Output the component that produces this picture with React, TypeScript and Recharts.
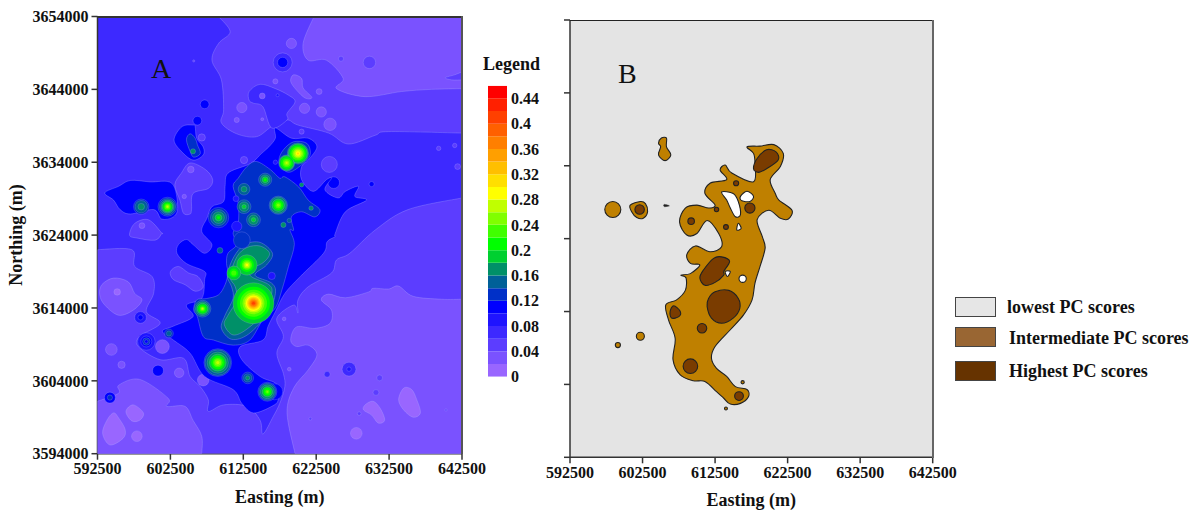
import { Bar, BarChart, CartesianGrid, Scatter, ScatterChart, XAxis, YAxis } from "recharts";

type Pt = [number, number]; // easting km, northing km

const eastTicks = [592500, 602500, 612500, 622500, 632500, 642500];
const northTicks = [3594000, 3604000, 3614000, 3624000, 3634000, 3644000, 3654000];
const scaleTicks = [0, 0.04, 0.08, 0.12, 0.16, 0.2, 0.24, 0.28, 0.32, 0.36, 0.4, 0.44];

// contour classes, 0.02 wide each, lowest first
const bandColors = [
  "#9966ff", "#7a52ff", "#5c3dff", "#3d29ff", "#1f14ff", "#0000ff", "#0030c8", "#006098",
  "#009068", "#00d030", "#00ff00", "#40ff00", "#80ff00", "#c0ff00", "#ffff00", "#ffdf00",
  "#ffbf00", "#ff9f00", "#ff7f00", "#ff6000", "#ff4000", "#ff2000", "#ff0000",
];
const pcLegend = [
  { label: "lowest PC scores", color: "#e6e6e6" },
  { label: "Intermediate PC scores", color: "#996633" },
  { label: "Highest PC scores", color: "#663300" },
];

// ---- panel A: contours that run into the frame (frame corners come last)
const northBand3: Pt[] = [
  [609.1, 3654], [610.7, 3651.9], [609.1, 3650.3], [608.2, 3648], [609.5, 3645.3], [609.8, 3641.2],
  [609.5, 3639.4], [611.6, 3637.9], [614.3, 3637.5], [616.4, 3638.9], [618.5, 3639.8], [620, 3639.1],
  [624.2, 3638], [626.9, 3636.5], [630.6, 3637.7], [632.4, 3638.2], [642.5, 3638], [642.5, 3654],
];
const northBand2: Pt[] = [
  [622.2, 3654], [620.7, 3650.3], [621.4, 3648], [623.9, 3648], [626.2, 3645.5], [625.3, 3644.1],
  [629.2, 3643], [634.2, 3643.7], [638.3, 3644], [642.5, 3644.1], [642.5, 3654],
];
const northNotch: Pt[] = [[642.5, 3645.3], [641.1, 3645.3], [640.2, 3645.6], [641.5, 3646], [642.5, 3646.4]];
const southBand3: Pt[] = [
  [592.5, 3622], [597.2, 3622], [597.6, 3619.7], [600, 3618.3], [600.2, 3616], [599.2, 3613.5],
  [601.1, 3611.9], [598.3, 3610.1], [598.1, 3608.7], [601.1, 3606.9], [604.3, 3607.1], [605.2, 3604.6],
  [606.6, 3603.2], [607.7, 3601.4], [607.7, 3599.8], [609.8, 3600.7], [613, 3600.5], [614.8, 3598.6],
  [615.2, 3596.7], [616.6, 3599.1], [617.5, 3600.9], [618.2, 3603.2], [618, 3605], [617.1, 3607.8],
  [618, 3610.1], [617.1, 3612.6], [619.4, 3614.4], [620, 3613.3], [620, 3615.1], [621.4, 3616.9],
  [624.6, 3618.8], [625.3, 3620.6], [627.1, 3621.5], [630.6, 3624.7], [635.1, 3627.5], [642.5, 3629.1],
  [642.5, 3594], [592.5, 3594],
];
const southWestBand2: Pt[] = [
  [592.5, 3601.2], [595.4, 3602.3], [595.4, 3603.4], [598.3, 3604.2], [602.2, 3601.6], [602, 3600.5],
  [604.5, 3600.5], [605.6, 3598.6], [606.8, 3596.4], [606.8, 3594], [592.5, 3594],
];
const southEastBand2: Pt[] = [
  [619.6, 3594], [618.5, 3599.6], [619.4, 3603], [621.4, 3605.5], [622.6, 3607.6], [621.4, 3608.9],
  [619.8, 3608.7], [619, 3609.6], [619.8, 3611.4], [622.3, 3611.2], [624.4, 3611.9], [624.6, 3613.7],
  [623.2, 3615.1], [624.2, 3615.9], [626.5, 3615.4], [629.7, 3616.2], [630.3, 3616.7], [632.4, 3616.6],
  [633.8, 3617], [635.8, 3615.6], [639.7, 3615.2], [642.5, 3615.2], [642.5, 3594],
];

// ---- panel A: closed low-value patches
const lowBlobs: [number, Pt[]][] = [
  [1, [[594.7, 3599.6], [593.8, 3598.6], [593.2, 3596.8], [594.2, 3595.2], [596, 3596.1], [596.3, 3597.3], [595.4, 3598.9]]],
  [1, [[596.4, 3599.8], [597.4, 3600.7], [598.8, 3599.6], [598.3, 3598.6], [597.2, 3598.5]]],
  [1, [[634.5, 3603], [635.6, 3602.8], [636.3, 3601.4], [636.8, 3599.6], [635.8, 3599], [634.5, 3600], [633.8, 3601.4]]],
  [1, [[629.2, 3600.7], [630.3, 3601.2], [631.3, 3600.2], [631.9, 3598.6], [631, 3598.2], [630.1, 3599.3], [629, 3600]]],
  [4, [[613.3, 3643.7], [614.8, 3644.7], [616.9, 3644.1], [618.7, 3643.2], [619.6, 3642.3], [618.5, 3640.7], [618.5, 3639.8], [616.4, 3638.7], [615.2, 3641.6], [613.9, 3642.1], [613.3, 3642.5]]],
  [2, [[619.4, 3646], [620.5, 3645.5], [620.7, 3644.2], [621.9, 3642.9], [621, 3642.8], [619.8, 3643.9], [619, 3645.1]]],
  [3, [[605.2, 3633.9], [607.3, 3633], [608.3, 3631.6], [607.7, 3630.4], [605.6, 3629.7], [605.4, 3627.5], [605.2, 3626.9], [604.3, 3627], [603.8, 3628.8], [603.1, 3630.9], [604, 3632.5]]],
  [3, [[596.9, 3624], [597.6, 3625.6], [599.5, 3626.1], [601.3, 3624.3], [601.3, 3624.2], [600.4, 3623.3], [597.9, 3623.6]]],
  [2, [[594.7, 3618.1], [596.7, 3617.6], [597.6, 3616], [598.6, 3615.1], [597.4, 3613.7], [595.4, 3613], [593.5, 3614.4], [592.8, 3615.8], [593.1, 3617.2]]],
  [3, [[603.6, 3619.7], [605, 3618.8], [606.3, 3618.3], [607, 3616.9], [605.9, 3616.3], [604.5, 3617.2], [602.9, 3617.9], [602.5, 3619]]],
];

// easting km, northing km, class, radius km
const lowSpots: [number, number, number, number][] = [
  [597.9, 3596.4, 1, 0.73], [628, 3596.8, 1, 0.8], [605.3, 3633, 2, 0.45], [604.4, 3629.3, 2, 0.3],
  [598.6, 3625.3, 2, 0.4], [606.8, 3637.4, 3, 0.5], [605.7, 3647.9, 3, 0.15], [612.3, 3641.5, 2, 0.7],
  [611.6, 3639.8, 2, 0.35], [615.1, 3639.9, 2, 0.2], [612.6, 3634.3, 3, 0.5], [615.1, 3643.1, 2, 0.4],
  [617.2, 3643.2, 5, 0.2], [620.9, 3641.4, 2, 0.7], [623.2, 3640.9, 2, 0.7], [624.4, 3639.2, 2, 0.85],
  [622.9, 3643.7, 2, 0.4], [619.1, 3650.3, 2, 0.7], [625.9, 3648.2, 3, 0.35], [629.8, 3647.7, 3, 0.85],
  [617.9, 3647.7, 4, 1.3], [617.9, 3647.7, 6, 0.7], [616.9, 3645.1, 2, 0.35], [639.3, 3635.9, 3, 0.3],
  [641.5, 3636.3, 3, 0.3], [641.9, 3633.4, 3, 0.4], [607.2, 3641.95, 6, 0.6], [606.2, 3639.7, 6, 0.6],
  [595.2, 3616.2, 1, 0.45], [594.4, 3608.3, 2, 0.8], [595.8, 3606.2, 2, 0.5], [603.7, 3605.1, 2, 0.65],
  [601.4, 3608.7, 2, 0.95], [607, 3604.1, 2, 0.8], [627, 3605.6, 4, 0.95], [627, 3605.6, 5, 0.3],
  [624, 3604.9, 4, 0.4], [631.2, 3604.4, 3, 0.4], [630.7, 3602.4, 3, 0.4], [628.4, 3599.5, 3, 0.25],
  [621.7, 3598.8, 3, 0.2], [618.8, 3605.6, 2, 0.25], [618.1, 3612.5, 2, 0.25], [640.3, 3600, 3, 0.15],
  [624.3, 3633.7, 3, 1.1], [624.9, 3631.2, 6, 0.8], [630.1, 3631, 6, 0.35], [620.5, 3638.2, 3, 0.35],
  [599.2, 3609.4, 5, 1.2], [599.2, 3609.4, 6, 0.75], [599.2, 3609.4, 7, 0.5], [599.2, 3609.4, 6, 0.25],
  [598.4, 3612.7, 5, 0.8], [598.4, 3612.7, 6, 0.35], [600.8, 3605.4, 6, 0.75], [594.2, 3601.7, 6, 0.75],
  [594.2, 3601.7, 7, 0.35],
];

// ---- panel A: central anomaly
const centralBand6: Pt[] = [
  [616.9, 3638.7], [619.1, 3637.3], [621.4, 3637.3], [622.6, 3636.1], [621.4, 3634.3], [620.5, 3633.4],
  [620.5, 3631.6], [622.1, 3630], [623.9, 3631.6], [624.6, 3631.8], [623.7, 3630.2], [625.5, 3629.1],
  [626.5, 3630], [628.3, 3630.7], [627.8, 3629.3], [629.4, 3628.8], [626.5, 3627.2], [625.1, 3624.2],
  [625.1, 3623.8], [624, 3623.1], [623.5, 3621.5], [620.3, 3618.3], [618.2, 3616], [616.9, 3613.5],
  [615.9, 3611.5], [615.2, 3609.6], [612.1, 3608.7], [612.3, 3606.9], [614.8, 3604.6], [617.1, 3603.5],
  [617.3, 3601.4], [616.4, 3600.5], [613.9, 3599.6], [612.3, 3600.9], [611.1, 3602.8], [607.2, 3604.6],
  [605.2, 3607.8], [602.9, 3609.6], [601.4, 3610.8], [602.9, 3611.5], [605.6, 3612.8], [604.7, 3614.4],
  [606.8, 3615.3], [607.2, 3617.9], [607.2, 3619], [604.7, 3620.1], [603.4, 3621.5], [603.6, 3622.7],
  [604.7, 3623.4], [605.6, 3622.7], [607.2, 3621.5], [608.2, 3622.7], [606.8, 3624.5], [607.5, 3626.3],
  [608.2, 3627.9], [609.8, 3628.6], [610, 3630.7], [610.4, 3632.5], [613, 3633.6], [613.9, 3634.1],
  [615, 3635.2], [616, 3636.1], [616.9, 3637.3],
];
const westPocket: Pt[] = [
  [593.5, 3629.8], [595.4, 3630.7], [597, 3631.5], [599.7, 3631.3], [602.7, 3631.1], [603.5, 3627.9],
  [602.9, 3626.5], [601.3, 3626.2], [600.2, 3627.5], [597, 3626.9], [595.6, 3627.5], [594.7, 3628.8],
];
const northPocket: Pt[] = [
  [605.6, 3639.1], [604.1, 3638.9], [603, 3637.1], [604, 3635.5], [605.6, 3634.3], [607, 3635],
  [607, 3636.1], [606.1, 3637.3], [605.9, 3638.9],
];
const northPocketCore: Pt[] = [
  [605.2, 3637.9], [604.7, 3637.1], [605.2, 3635.5], [605.7, 3634.7], [606.6, 3635.2], [606.2, 3636.4], [605.9, 3637.3],
];
const centralBand7: Pt[] = [
  [613, 3633.4], [614.3, 3634.1], [616.2, 3633], [617.5, 3631.8], [618.2, 3632], [620.1, 3630.6],
  [621.4, 3628.8], [623, 3627.5], [622.3, 3626.5], [620.5, 3627.2], [619.1, 3626.5], [619.4, 3624.7],
  [618.9, 3624.7], [619.5, 3622.7], [618.7, 3619.7], [617.8, 3616.5], [616.9, 3614], [615.2, 3612.4],
  [613.4, 3609.6], [611.1, 3608.9], [608.4, 3609.6], [607, 3610.1], [606.2, 3612.8], [605.7, 3613.7],
  [606.1, 3615.1], [607.5, 3615.3], [609.1, 3615.8], [610, 3617.2], [610.4, 3618.8], [610.2, 3620.1],
  [610.4, 3621.5], [611.6, 3622.7], [611.1, 3624.3], [611.8, 3625.6], [611.8, 3628.4], [611.1, 3630.7],
  [611.8, 3631.8],
];
const northEastBand7: Pt[] = [
  [619.4, 3636.8], [621.2, 3636.6], [621.7, 3635.2], [621, 3634.1], [619.1, 3632.7], [618, 3633], [617.4, 3634.3], [618, 3635.7],
];
const centralBand8: Pt[] = [
  [609.5, 3611.2], [610.9, 3609.7], [613.2, 3610.4], [615.9, 3613.3], [616.9, 3616], [616.4, 3617.4],
  [614.1, 3618.5], [615.7, 3619.9], [616.5, 3621.5], [614.8, 3623], [612.7, 3622.7], [611.2, 3621],
  [610.3, 3618.5], [610.9, 3616.9], [611.1, 3615.3], [610, 3613],
];
const centralBand9: Pt[] = [
  [609.9, 3611.7], [611.1, 3610.3], [613, 3611.1], [615.5, 3613.5], [616.4, 3616], [616, 3617.2],
  [613.6, 3618.3], [613.4, 3619.3], [615.2, 3620.2], [616.1, 3621.5], [614.8, 3622.5], [613, 3622.3],
  [611.6, 3621], [610.7, 3618.3], [611.4, 3616.9], [611.6, 3615.1], [610.4, 3613],
];

// easting km, northing km, then [class, radius km] from outer to inner
const hotSites: [number, number, [number, number][]][] = [
  [613.9, 3614.65, [[10, 2.8], [11, 2.25], [12, 1.85], [13, 1.5], [14, 1.25], [15, 1.05], [16, 0.9], [17, 0.75], [18, 0.6], [19, 0.45], [20, 0.3], [21, 0.18]]],
  [613, 3619.9, [[10, 1.4], [11, 0.95], [12, 0.7], [13, 0.5], [14, 0.35], [15, 0.18]]],
  [611.2, 3618.8, [[10, 0.95], [11, 0.6], [12, 0.35]]],
  [606.9, 3613.9, [[8, 1.15], [9, 0.95], [10, 0.75], [11, 0.55], [12, 0.35], [13, 0.22], [14, 0.12]]],
  [609, 3606.5, [[7, 1.9], [8, 1.75], [9, 1.45], [10, 1.15], [11, 0.9], [12, 0.65], [13, 0.45], [14, 0.22]]],
  [615.8, 3602.5, [[7, 1.3], [8, 1.15], [9, 0.95], [10, 0.7], [11, 0.5], [12, 0.28], [13, 0.12]]],
  [616.8, 3602.5, [[6, 1.1]]],
  [613.1, 3604.4, [[7, 0.8], [8, 0.55], [9, 0.28]]],
  [620, 3635.2, [[9, 1.45], [10, 1.3], [11, 1.1], [12, 0.9], [13, 0.7], [14, 0.5], [15, 0.3], [16, 0.15]]],
  [618.45, 3633.9, [[9, 1.1], [10, 1], [11, 0.8], [12, 0.55], [13, 0.35], [14, 0.15]]],
  [617.3, 3628.1, [[8, 1.25], [9, 1.1], [10, 0.85], [11, 0.65], [12, 0.4], [13, 0.2]]],
  [615.5, 3631.6, [[8, 0.9], [9, 0.65], [10, 0.4], [11, 0.2]]],
  [612.6, 3630.3, [[8, 0.8], [9, 0.4]]],
  [612.6, 3627.9, [[8, 0.95], [9, 0.65], [10, 0.3]]],
  [613.9, 3626.1, [[8, 0.95], [9, 0.65], [10, 0.3]]],
  [609.1, 3626.4, [[7, 1.4], [8, 1.1], [9, 0.8], [10, 0.45], [11, 0.2]]],
  [618, 3625.4, [[9, 0.35]]],
  [618.8, 3626, [[8, 0.3]]],
  [620.5, 3630.9, [[9, 0.3]]],
  [621.8, 3627.7, [[9, 0.3]]],
  [612.3, 3623.3, [[7, 1.15], [5, 0.5]]],
  [609.3, 3621.9, [[8, 0.4]]],
  [616.4, 3618.4, [[5, 0.5]]],
  [602.3, 3610.5, [[7, 0.6], [8, 0.35]]],
  [598.5, 3627.9, [[7, 1.05], [8, 0.85], [9, 0.45]]],
  [602.1, 3627.9, [[7, 1.3], [8, 1.1], [9, 0.9], [10, 0.75], [11, 0.55], [12, 0.4], [13, 0.25], [14, 0.12]]],
  [605.6, 3635.5, [[9, 0.35]]],
  [611.6, 3625.2, [[5, 0.7]]],
  [611.5, 3629, [[5, 0.4]]],
  [616.9, 3634, [[5, 0.3]]],
];

// ---- panel B
const pcIntermediate: Pt[][] = [
  [
    [616.9, 3636.6], [618.7, 3636.7], [620.6, 3636.9], [621.9, 3635.7], [621.5, 3633.9], [620.1, 3632.1],
    [620.8, 3630.2], [621.3, 3629.3], [623.1, 3627.9], [622.6, 3626.7], [621.5, 3626.8], [619.9, 3627.9],
    [618.3, 3626.6], [619, 3624.3], [619.4, 3622.7], [618.7, 3620.2], [618, 3617.9], [617.6, 3615.6],
    [616.4, 3613.5], [614.6, 3611.5], [612.5, 3609.2], [612, 3607.6], [612.7, 3606.2], [614.1, 3605.1],
    [615.3, 3603.7], [616.9, 3603.3], [617.1, 3602.3], [616, 3601.4], [614.6, 3601.3], [613.7, 3602.1],
    [612.7, 3603], [611.1, 3604.4], [609.5, 3604.5], [607.7, 3605.3], [606.7, 3607.4], [607, 3610.3],
    [606.1, 3612.8], [605.7, 3614.9], [607.2, 3615.6], [608.4, 3616.9], [608.5, 3618.6], [607.8, 3619],
    [609.1, 3619.2], [610.4, 3620.4], [609.1, 3620.6], [608.6, 3621.8], [609.8, 3623], [611.8, 3622.2],
    [613.4, 3622.9], [613, 3624.7], [611.4, 3626.5], [610, 3624.7], [608.6, 3624.5], [607.6, 3626.3],
    [608.4, 3628.2], [610, 3628.6], [611.6, 3628.2], [612.5, 3628.6], [611.1, 3630.2], [611.8, 3631.6],
    [614.1, 3632.1], [613.2, 3633.4], [613.9, 3634.1], [614.8, 3633], [617.8, 3631.8], [618, 3634.3], [617.8, 3635.7],
  ],
  [[600.8, 3628.6], [602.2, 3629.1], [602.9, 3628.8], [603.2, 3627.7], [602.6, 3626.8], [601.7, 3626.9], [601, 3627.7]],
  [[605.1, 3637.8], [605.8, 3637.8], [605.8, 3636.6], [606.4, 3635.5], [605.6, 3634.7], [604.7, 3635.5], [605, 3636.6], [604.7, 3637.1]],
];
const pcHoles: Pt[][] = [
  [[613.4, 3630.4], [615, 3630.2], [615.7, 3629.1], [616, 3627.3], [615.3, 3627], [614.6, 3628.2], [614.1, 3629.3]],
  [[616, 3629.8], [616.9, 3630.5], [617.8, 3629.8], [617.3, 3629.1], [616.2, 3629.2]],
  [[615.7, 3626.1], [616.1, 3625.4], [615.5, 3625.2]],
  [[613.9, 3619.5], [614.6, 3619.5], [614.2, 3618.8]],
];
const pcHighest: Pt[][] = [
  [[619.6, 3636.2], [620.9, 3635.9], [621.2, 3634.8], [619.6, 3633.6], [618.5, 3633.1], [617.8, 3633.6], [618.3, 3635]],
  [[613.4, 3621.5], [614.5, 3620.9], [613.7, 3619.5], [613.7, 3619], [612.5, 3618], [611.1, 3617.6], [610.4, 3618.6], [610.9, 3619.7], [612.3, 3621.3]],
  [[612.5, 3616.7], [614.4, 3616.9], [615.7, 3615.8], [615.9, 3614.4], [615, 3613.1], [613.4, 3612.4], [612, 3613.1], [611.4, 3614.7], [611.6, 3615.8]],
  [[606.8, 3614.8], [607.7, 3614], [607.5, 3613.3], [606.5, 3613.1], [606.3, 3614]],
];
const pcFlecks: Pt[] = [[605.5, 3628.7], [606.2, 3628.5], [605.5, 3628.4]];
// easting km, northing km, radius km
const pcHighSpots: [number, number, number][] = [
  [610.7, 3611.7, 0.65], [609.1, 3606.5, 1], [615.8, 3602.4, 0.6], [617.3, 3628.2, 0.7], [602.1, 3628, 0.65],
  [609.2, 3626.4, 0.45], [612.7, 3628, 0.3], [614, 3625.6, 0.33], [615.4, 3631.6, 0.35],
];
const pcMidSpots: [number, number, number][] = [
  [598.4, 3628, 1.1], [602.2, 3610.6, 0.55], [599.1, 3609.4, 0.35], [616.3, 3604.3, 0.22], [614, 3600.7, 0.2],
];
const pcHoleSpots: [number, number, number][] = [[616.3, 3618.5, 0.5]];

const FONT = "'Liberation Serif', serif";
const PX_PER_KM = 7.29;
const AXIS_COLOR = "#333";
const tickStyle = { fontFamily: FONT, fontSize: 16, fontWeight: 700, fill: "#111" };
const titleStyle = { fontFamily: FONT, fontSize: 18, fontWeight: 700, fill: "#111" };

const toRows = (pts: Pt[]) => pts.map(([e, n]) => ({ e: e * 1000, n: n * 1000 }));

function segments(pts: { x: number; y: number }[], closed: boolean) {
  const n = pts.length;
  const at = (i: number) => (closed ? pts[(i + n) % n] : pts[Math.max(0, Math.min(n - 1, i))]);
  let d = "";
  for (let i = 0; i < (closed ? n : n - 1); i++) {
    const p0 = at(i - 1);
    const p1 = at(i);
    const p2 = at(i + 1);
    const p3 = at(i + 2);
    d += `C${p1.x + (p2.x - p0.x) / 6},${p1.y + (p2.y - p0.y) / 6} ${p2.x - (p3.x - p1.x) / 6},${p2.y - (p3.y - p1.y) / 6} ${p2.x},${p2.y}`;
  }
  return d;
}

// Catmull-Rom through the scaled points; frame contours stay open, then run straight round the corners
function contourPath(pts: { x: number; y: number }[], corners: number | null) {
  if (corners === null) return `M${pts[0].x},${pts[0].y}${segments(pts, true)}Z`;
  const curve = pts.slice(0, pts.length - corners);
  const rest = pts.slice(pts.length - corners).map((p) => `L${p.x},${p.y}`).join("");
  return `M${curve[0].x},${curve[0].y}${segments(curve, false)}${rest}Z`;
}

function contour(key: string, pts: Pt[], fill: string, stroke: string, strokeWidth: number, corners: number | null = null) {
  return (
    <Scatter
      key={key}
      data={toRows(pts)}
      isAnimationActive={false}
      shape={() => null}
      line={(p: any) => <path d={contourPath(p.points, corners)} fill={fill} stroke={stroke} strokeWidth={strokeWidth} strokeLinejoin="round" />}
    />
  );
}

function spots(key: string, rows: { e: number; n: number; fill: string; stroke: string; strokeWidth: number; r: number }[]) {
  return (
    <Scatter
      key={key}
      data={rows}
      isAnimationActive={false}
      shape={(p: any) => (
        <circle cx={p.cx} cy={p.cy} r={p.payload.r * PX_PER_KM} fill={p.payload.fill} stroke={p.payload.stroke} strokeWidth={p.payload.strokeWidth} />
      )}
    />
  );
}

const CONTOUR_LINE = "rgba(175,170,255,0.45)";
const band = (b: number) => bandColors[b - 1];
const a = (key: string, pts: Pt[], b: number, corners: number | null = null) => contour(key, pts, band(b), CONTOUR_LINE, 0.7, corners);

const lowSpotRows = lowSpots.map(([e, n, b, r]) => ({ e: e * 1000, n: n * 1000, r, fill: band(b), stroke: CONTOUR_LINE, strokeWidth: 0.6 }));
const hotRows = hotSites
  .flatMap(([e, n, rings]) => rings.map(([b, r]) => ({ e: e * 1000, n: n * 1000, b, r, fill: band(b), stroke: b < 11 ? CONTOUR_LINE : "none", strokeWidth: 0.5 })))
  .sort((p, q) => p.b - q.b);

const PC_MID = "#bf8000";
const PC_HIGH = "#7a3c00";
const PC_LINE = "#222";
const pcSpotRows = (rows: [number, number, number][], fill: string) =>
  rows.map(([e, n, r]) => ({ e: e * 1000, n: n * 1000, r, fill, stroke: PC_LINE, strokeWidth: 1.1 }));

const scaleRow = [Object.fromEntries(bandColors.map((_, i) => [`b${i}`, 0.02]))];

function axes(showNorthing: boolean, yWidth: number, xHeight: number, titleOffset: number) {
  return [
    <XAxis
      key="x"
      dataKey="e"
      type="number"
      domain={[592500, 642500]}
      ticks={eastTicks}
      interval={0}
      allowDataOverflow
      height={xHeight}
      stroke={AXIS_COLOR}
      strokeWidth={1.5}
      tickSize={6}
      tickMargin={3}
      tick={tickStyle}
      label={{ value: "Easting (m)", position: "insideBottom", offset: titleOffset, style: titleStyle }}
    />,
    <YAxis
      key="y"
      dataKey="n"
      type="number"
      domain={[3594000, 3654000]}
      ticks={northTicks}
      interval={0}
      allowDataOverflow
      width={yWidth}
      stroke={AXIS_COLOR}
      strokeWidth={1.5}
      tickSize={6}
      tickMargin={3}
      tick={tickStyle}
      tickFormatter={showNorthing ? undefined : () => ""}
      label={showNorthing ? { value: "Northing (m)", angle: -90, position: "insideLeft", offset: 16, style: { ...titleStyle, textAnchor: "middle" } } : undefined}
    />,
  ];
}

const box = (left: number, top: number): React.CSSProperties => ({ position: "absolute", left, top });
const letter = (left: number, top: number): React.CSSProperties => ({ ...box(left, top), fontFamily: FONT, fontSize: 28, lineHeight: "28px", color: "#111" });
const frameLine = (left: number, top: number, width: number, height: number, background: string): React.CSSProperties => ({ ...box(left, top), width, height, background });

export default function App() {
  return (
    <div style={{ position: "absolute", left: 0, top: 0, width: 1201, height: 514, background: "#fff", overflow: "hidden" }}>
      <div style={box(0, 0)}>
        <ScatterChart width={500} height={514} margin={{ top: 16.5, right: 38, bottom: 0, left: 0 }}>
          <CartesianGrid horizontal={false} vertical={false} fill={band(4)} />
          {axes(true, 97.5, 60.3, 11)}
          {a("n3", northBand3, 3, 1)}
          {a("n2", northBand2, 2, 1)}
          {a("nn", northNotch, 3, 0)}
          {a("s3", southBand3, 3, 2)}
          {a("sw2", southWestBand2, 2, 1)}
          {a("se2", southEastBand2, 2, 1)}
          {lowBlobs.map(([b, pts], i) => a(`low${i}`, pts, b))}
          {spots("lowSpots", lowSpotRows)}
          {a("c6", centralBand6, 6)}
          {a("w6", westPocket, 6)}
          {a("np6", northPocket, 6)}
          {a("np7", northPocketCore, 7)}
          {a("c7", centralBand7, 7)}
          {a("ne7", northEastBand7, 7)}
          {a("c8", centralBand8, 8)}
          {a("c9", centralBand9, 9)}
          {spots("hot", hotRows)}
        </ScatterChart>
      </div>
      <div style={frameLine(97, 16, 365, 1.5, "#333")} />
      <div style={frameLine(461, 16, 1.5, 438, "#555")} />

      <div style={letter(151, 55)}>A</div>
      <div style={{ ...box(483, 54), fontFamily: FONT, fontSize: 18, fontWeight: 700, color: "#111" }}>Legend</div>

      <div style={box(488, 0)}>
        <BarChart width={70} height={514} data={scaleRow} barCategoryGap={0} margin={{ top: 85.7, right: 0, bottom: 137.3, left: 0 }}>
          <XAxis hide />
          <YAxis
            orientation="right"
            type="number"
            domain={[0, 0.46]}
            ticks={scaleTicks}
            interval={0}
            width={51}
            axisLine={false}
            tickLine={false}
            tickSize={0}
            tickMargin={4}
            tick={tickStyle}
            allowDataOverflow
          />
          {bandColors.map((c, i) => (
            <Bar key={c} dataKey={`b${i}`} stackId="scale" fill={c} isAnimationActive={false} />
          ))}
        </BarChart>
      </div>

      <div style={box(520, 0)}>
        <ScatterChart width={480} height={514} margin={{ top: 20, right: 67.3, bottom: 0, left: 0 }}>
          <CartesianGrid horizontal={false} vertical={false} fill="#e4e4e4" />
          {axes(false, 50, 56.7, 8)}
          {pcIntermediate.map((pts, i) => contour(`mid${i}`, pts, PC_MID, PC_LINE, 1.1))}
          {pcHoles.map((pts, i) => contour(`hole${i}`, pts, "#fff", PC_LINE, 1.1))}
          {pcHighest.map((pts, i) => contour(`high${i}`, pts, PC_HIGH, PC_LINE, 1.1))}
          {contour("fleck", pcFlecks, "#222", PC_LINE, 0.5)}
          {spots("pcMid", pcSpotRows(pcMidSpots, PC_MID))}
          {spots("pcHigh", pcSpotRows(pcHighSpots, PC_HIGH))}
          {spots("pcHole", pcSpotRows(pcHoleSpots, "#fff"))}
        </ScatterChart>
      </div>
      <div style={frameLine(570, 19.5, 363, 1.5, "#222")} />
      <div style={frameLine(932, 19.5, 2, 438, "#666")} />

      <div style={letter(618, 60)}>B</div>

      {pcLegend.map((item, i) => (
        <div key={item.label}>
          <div style={{ ...box(955, [297, 327, 361][i]), width: 39, height: 18, background: item.color, border: "1px solid #444" }} />
          <div style={{ ...box(i === 0 ? 1007 : 1009, [297, 328, 361][i]), fontFamily: FONT, fontSize: 18, fontWeight: 700, lineHeight: "20px", color: "#111", whiteSpace: "nowrap" }}>
            {item.label}
          </div>
        </div>
      ))}
    </div>
  );
}
